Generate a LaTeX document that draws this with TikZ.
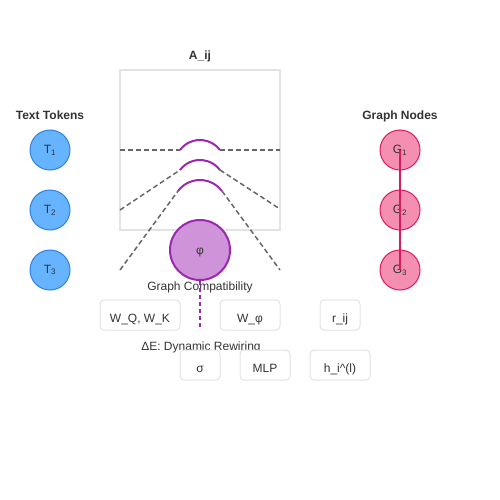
\documentclass[tikz,border=0pt]{standalone}
\usepackage{fontspec}
\setmainfont{Liberation Sans}
\begin{document}
\begin{tikzpicture}[x=1pt,y=-1pt,
  txt/.style={text=txtgray,font=\fontsize{12}{14}\selectfont,inner sep=0pt,text height=9pt,text depth=0pt},
  ttl/.style={text=titlegray,font=\fontsize{12}{14}\selectfont\bfseries,inner sep=0pt,text height=9pt,text depth=0pt},
  tok/.style={circle,minimum size=40pt,inner sep=0pt,fill=tokfill,draw=tokline,line width=1pt,text=txtgray,font=\fontsize{12}{14}\selectfont},
  gnode/.style={circle,minimum size=40pt,inner sep=0pt,fill=gfill,draw=gline,line width=1pt,text=txtgray,font=\fontsize{12}{14}\selectfont},
  phinode/.style={circle,minimum size=60pt,inner sep=0pt,fill=pfill,draw=pline,line width=2pt,text=txtgray,font=\fontsize{12}{14}\selectfont,text height=8pt,text depth=0pt},
  pbox/.style={rectangle,rounded corners=4pt,draw=boxline,line width=1pt,fill=white,inner sep=0pt,text=txtgray,font=\fontsize{12}{14}\selectfont,text height=14pt,text depth=0pt},
  gdash/.style={draw=dashgray,line width=1.5pt,dash pattern=on 5pt off 3pt},
  parc/.style={draw=pline,line width=2pt},
]
\definecolor{txtgray}{HTML}{333333}
\definecolor{titlegray}{HTML}{333333}
\definecolor{tokfill}{HTML}{66B3FF}
\definecolor{tokline}{HTML}{2F80E0}
\definecolor{gfill}{HTML}{F48FB1}
\definecolor{gline}{HTML}{D81B60}
\definecolor{pfill}{HTML}{CE93D8}
\definecolor{pline}{HTML}{9C27B0}
\definecolor{boxline}{HTML}{E3E3E3}
\definecolor{dashgray}{HTML}{666666}
\useasboundingbox (0,0) rectangle (500,500);

% attention matrix box
\node[ttl] (aij) at (200,55) {A\_ij};
\draw[draw=boxline,line width=1.5pt] (120,70) rectangle (280,230);

% titles
\node[ttl] (tt) at (50,115) {Text Tokens};
\node[ttl] (gt) at (400,115) {Graph Nodes};

% dashed connectors and purple arcs
\coordinate (l1) at (120,150); \coordinate (a1s) at (180,150); \coordinate (a1e) at (220,150); \coordinate (r1) at (280,150);
\coordinate (l2) at (120,210); \coordinate (a2s) at (180,170); \coordinate (a2e) at (220,170); \coordinate (r2) at (280,209);
\coordinate (l3) at (120,270); \coordinate (a3s) at (178,191); \coordinate (a3e) at (222,191); \coordinate (r3) at (280,270);
\draw[gdash] (l1) -- (a1s);
\draw[gdash] (a1e) -- (r1);
\draw[gdash] (l2) -- (a2s);
\draw[gdash] (a2e) -- (r2);
\draw[gdash] (l3) -- (a3s);
\draw[gdash] (a3e) -- (r3);
\draw[parc] (a1s) arc[start angle=143.13, end angle=36.87, radius=25pt];
\draw[parc] (a2s) arc[start angle=143.13, end angle=36.87, radius=25pt];
\draw[parc] (a3s) arc[start angle=143.13, end angle=36.87, radius=27.5pt];

% text tokens
\node[tok] (t1) at (50,150) {T\textsubscript{1}};
\node[tok] (t2) at (50,210) {T\textsubscript{2}};
\node[tok] (t3) at (50,270) {T\textsubscript{3}};

% graph nodes
\node[gnode] (g1) at (400,150) {G\textsubscript{1}};
\node[gnode] (g2) at (400,210) {G\textsubscript{2}};
\node[gnode] (g3) at (400,270) {G\textsubscript{3}};
\draw[draw=gline,line width=1.5pt] (g1.center) -- (g3.center);

% phi
\node[phinode] (phi) at (200,250) {φ};
\node[txt] (gc) at (200,286) {Graph Compatibility};

% boxes row 1
\node[pbox,minimum width=80pt,minimum height=30pt] (wqk) at (140,315) {W\_Q, W\_K};
\node[pbox,minimum width=60pt,minimum height=30pt] (wphi) at (250,315) {W\_φ};
\node[pbox,minimum width=40pt,minimum height=30pt] (rij) at (340,315) {r\_ij};

\coordinate (dend) at (200,330);
\draw[draw=pline,line width=2pt,dash pattern=on 4pt off 3pt] (phi.south) -- (dend);

\node[txt] (de) at (201,346) {ΔE: Dynamic Rewiring};

% boxes row 2
\node[pbox,minimum width=40pt,minimum height=30pt] (sig) at (200,365) {σ};
\node[pbox,minimum width=50pt,minimum height=30pt] (mlp) at (265,365) {MLP};
\node[pbox,minimum width=60pt,minimum height=30pt] (hil) at (340,365) {h\_i\^{}(l)};
\end{tikzpicture}
\end{document}
